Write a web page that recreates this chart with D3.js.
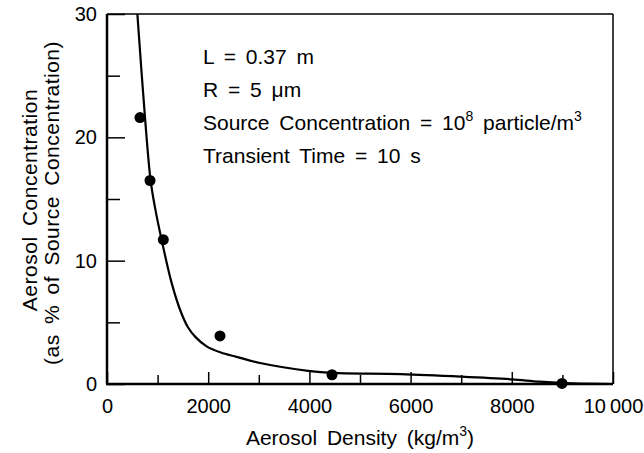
<!DOCTYPE html>
<html>
<head>
<meta charset="utf-8">
<script src="https://cdn.jsdelivr.net/npm/d3@7/dist/d3.min.js"></script>
<style>
body{margin:0;background:#fff}
text{font-family:"Liberation Sans",Arial,Helvetica,sans-serif;fill:#000}
</style>
</head>
<body>
<div id="chart"></div>
<script>
// model curve
var curveX=[600,751,862,949,1079,1277,1455,1600,1750,1969,2250,2563,3024,4012,4450,5800,7000,8000,8550,9200,10000];
var curveY=[30,21.6,16.5,14.3,11.7,8.2,5.9,4.6,3.8,3.05,2.55,2.2,1.7,1.05,0.9,0.8,0.6,0.38,0.19,0.05,0];
// measured points
var pointX=[652,850,1113,2233,4447,8992];
var pointY=[21.6,16.5,11.7,3.9,0.75,0.05];
var xMajor=[0,2000,4000,6000,8000,10000];
var xMinor=[1000,3000,5000,7000,9000];
var xLabels=["0","2000","4000","6000","8000","10\u2009000"];
var yMajor=[0,10,20,30];
var yMinor=[5,15,25];
var notes=["L = 0.37 m","R = 5 \u03bcm","Source Concentration = 10|8| particle/m|3","Transient Time = 10 s"];

var W=644,H=453;
var m={l:107,t:14,r:613,b:384};
var svg=d3.select("#chart").append("svg")
	.attr("width",W)
	.attr("height",H);

var x=d3.scaleLinear().domain([0,10000]).range([m.l,m.r]);
var y=d3.scaleLinear().domain([0,30]).range([m.b,m.t]);

// axes, ticks pointing inward
svg.append("g").attr("transform","translate(0,"+m.b+")")
	.call(d3.axisBottom(x).tickValues(xMajor).tickSizeInner(-12).tickSizeOuter(0).tickPadding(15)
		.tickFormat(function(d,i){return xLabels[i];}));
svg.append("g").attr("transform","translate(0,"+m.b+")")
	.call(d3.axisBottom(x).tickValues(xMinor).tickSizeInner(-9).tickSizeOuter(0).tickFormat(""));
svg.append("g").attr("transform","translate("+m.l+",0)")
	.call(d3.axisLeft(y).tickValues(yMajor).tickSizeInner(-18).tickSizeOuter(0).tickPadding(10));
svg.append("g").attr("transform","translate("+m.l+",0)")
	.call(d3.axisLeft(y).tickValues(yMinor).tickSizeInner(-13).tickSizeOuter(0).tickFormat(""));
svg.selectAll(".domain").remove();
svg.selectAll(".tick line").attr("stroke","#000").attr("stroke-width",1.5);
svg.selectAll(".tick text").attr("font-size","20px").attr("font-family","Liberation Sans, Arial, sans-serif").attr("fill","#000");

// frame
svg.append("line").attr("x1",m.l).attr("y1",m.t).attr("x2",m.l).attr("y2",m.b).attr("stroke","#000").attr("stroke-width",2.5);
svg.append("line").attr("x1",m.l-1).attr("y1",m.b).attr("x2",m.r).attr("y2",m.b).attr("stroke","#000").attr("stroke-width",2.5);
svg.append("line").attr("x1",m.l).attr("y1",m.t).attr("x2",m.r).attr("y2",m.t).attr("stroke","#000").attr("stroke-width",1.5);
svg.append("line").attr("x1",m.r).attr("y1",m.t).attr("x2",m.r).attr("y2",m.b).attr("stroke","#000").attr("stroke-width",1.5);

// curve
var line=d3.line()
	.x(function(d,i){return x(curveX[i]);})
	.y(function(d,i){return y(curveY[i]);})
	.curve(d3.curveCatmullRom.alpha(0.5));
svg.append("path")
	.datum(curveX)
	.attr("d",line)
	.attr("fill","none")
	.attr("stroke","#000")
	.attr("stroke-width",2.2);

// points
svg.selectAll(".pt").data(pointX).enter().append("circle")
	.attr("class","pt")
	.attr("cx",function(d){return x(d);})
	.attr("cy",function(d,i){return y(pointY[i]);})
	.attr("r",5.5)
	.attr("fill","#000");

// annotation, "|" marks superscript parts
notes.forEach(function(s,i){
	var t=svg.append("text")
		.attr("x",203)
		.attr("y",64+i*33)
		.attr("font-size","21px")
		.attr("word-spacing","4px");
	var up=false;
	s.split("|").forEach(function(part,j){
		if(j%2==0){
			var ts=t.append("tspan").text(part);
			if(up){ts.attr("dy",9);up=false;}
		}else{
			t.append("tspan").attr("font-size","14px").attr("dy",-9).text(part);
			up=true;
		}
	});
});

// axis titles
var xt=svg.append("text")
	.attr("x",(m.l+m.r)/2)
	.attr("y",445)
	.attr("text-anchor","middle")
	.attr("font-size","21px")
	.attr("word-spacing","4px");
xt.append("tspan").text("Aerosol Density (kg/m");
xt.append("tspan").attr("font-size","14px").attr("dy",-9).text("3");
xt.append("tspan").attr("dy",9).text(")");

svg.append("text")
	.attr("transform","translate(37,200) rotate(-90)")
	.attr("text-anchor","middle")
	.attr("font-size","21px")
	.attr("letter-spacing","0.5px")
	.attr("word-spacing","4px")
	.text("Aerosol Concentration");
svg.append("text")
	.attr("transform","translate(59,203) rotate(-90)")
	.attr("text-anchor","middle")
	.attr("font-size","21px")
	.attr("letter-spacing","0.5px")
	.attr("word-spacing","4px")
	.text("(as % of Source Concentration)");
</script>
</body>
</html>
